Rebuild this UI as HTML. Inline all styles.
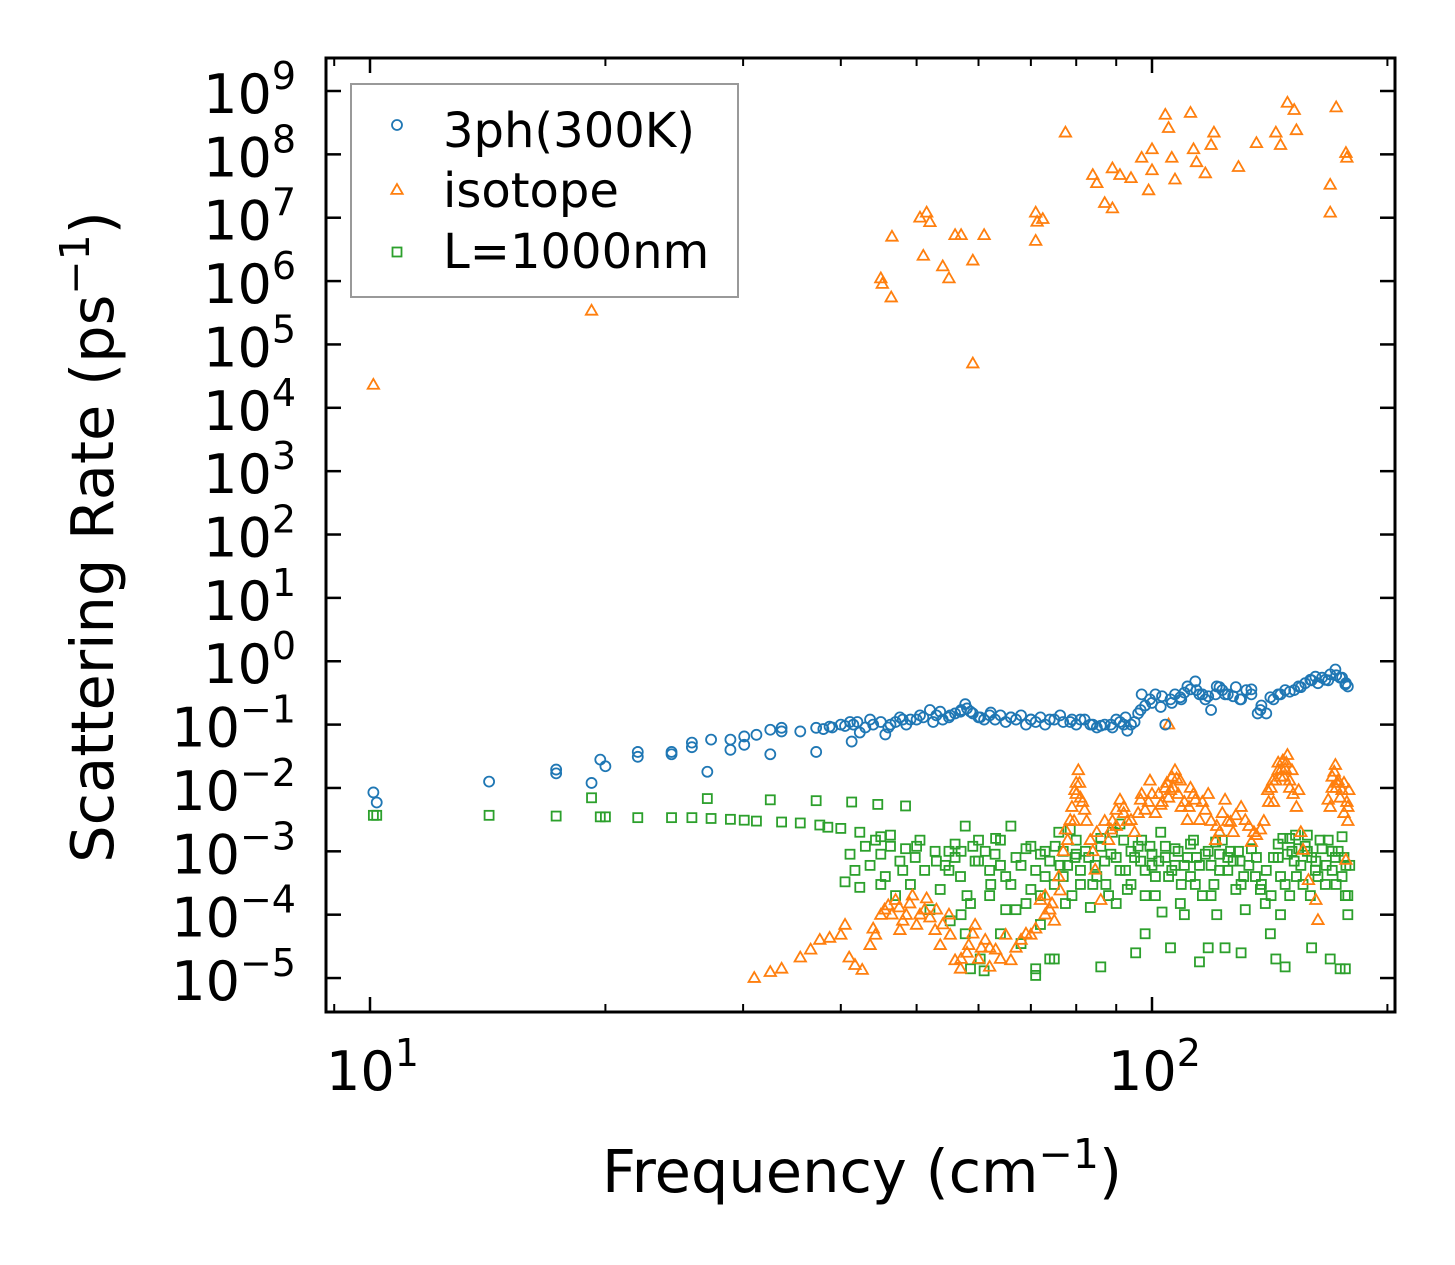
<!DOCTYPE html>
<html><head><meta charset="utf-8">
<style>
html,body{margin:0;padding:0;background:#fff;}
svg{display:block;}
text{font-family:"DejaVu Sans","Liberation Sans",sans-serif;fill:#000;}
</style></head>
<body>
<svg id="chart" width="1455" height="1265" viewBox="0 0 1455 1265" xmlns="http://www.w3.org/2000/svg">
<rect width="1455" height="1265" fill="#fff"/>
<g id="marks"></g>
<g id="axes"></g>
</svg>
<script>
// ---- data ----
const freq3ph = [10.1,10.2,14.2,17.3,17.3,19.2,19.7,20,22,22,24.3,24.3,25.8,25.8,27,27.3,28.9,28.9,30.1,30.1,31.2,32.5,32.5,33.6,33.6,35.5,37.2,37.2,38.7,40,41.1,41.3,42.3,43.6,45,45.6,46.3,47.6,49.1,50.5,52,53.6,55.2,56.9,57.7,58.6,60.3,62.2,64,66,68,70,72,74,76.3,78.6,81,83.4,86,88.6,91,92.5,94,96.7,97,99.4,102.6,104,105.6,108.7,112,113.6,115,117,119,120.6,122,124,128,129.6,134,136.5,137.6,141.7,146,150,155,159.4,161.8,166.6,169,171.6,174,176.7,
38,39,40.5,41.5,42,43,44,46,47,48,48.5,50,51,52.5,53,54,55,56,57,58,59,60,61,62,63,65,66,67,69,70,71,73,75,77,79,80,82,84,85,87,89,90,92,93,95,96,98,100,101,103,106,107,109,110,111,114,116,118,121,123,125,127,130,132,134,138,140,143,145,148,152,154,157,160,163,165,168,172,175,177,178];
const rate3ph = [8.5e-3,5.9e-3,1.26e-2,1.95e-2,1.7e-2,1.2e-2,2.8e-2,2.2e-2,3.7e-2,3.1e-2,3.7e-2,3.4e-2,5.2e-2,4.4e-2,1.8e-2,5.8e-2,5.8e-2,4e-2,6.5e-2,4.8e-2,6.9e-2,3.4e-2,8.3e-2,8.9e-2,7.8e-2,7.8e-2,3.7e-2,8.9e-2,9.3e-2,0.1,0.11,5.4e-2,7.5e-2,0.12,0.11,7e-2,0.1,0.13,0.12,0.14,0.17,0.16,0.14,0.16,0.21,0.16,0.13,0.155,0.14,0.13,0.14,0.12,0.13,0.12,0.14,0.11,0.12,0.1,0.096,0.1,0.11,0.13,0.1,0.17,0.3,0.25,0.19,0.1,0.25,0.27,0.36,0.48,0.3,0.25,0.17,0.3,0.39,0.3,0.39,0.25,0.36,0.15,0.17,0.27,0.3,0.33,0.39,0.51,0.57,0.51,0.62,0.74,0.55,0.43,
0.085,0.09,0.095,0.1,0.11,0.09,0.1,0.09,0.11,0.12,0.1,0.12,0.13,0.11,0.14,0.12,0.13,0.15,0.17,0.18,0.15,0.13,0.12,0.14,0.12,0.11,0.13,0.12,0.1,0.12,0.11,0.1,0.12,0.11,0.12,0.1,0.12,0.1,0.09,0.1,0.09,0.12,0.1,0.08,0.11,0.15,0.2,0.22,0.3,0.28,0.22,0.3,0.25,0.32,0.4,0.35,0.3,0.28,0.4,0.35,0.3,0.28,0.25,0.35,0.3,0.2,0.15,0.25,0.3,0.35,0.35,0.4,0.45,0.5,0.45,0.55,0.5,0.6,0.55,0.45,0.4];

const freqIso = [10.1,19.2,45,45.2,46.4,46.5,50.5,51.5,52,51,54,55,56,57,59,59,61,71,71.3,71,72.5,77.5,84,85,87,89,89,91,94,97,99,100,100,104,105,106,107,112,113,114,117,119,120,129,136,144,146,149,152,153,172,169,169,177,177.5,
31,32.5,33.6,35.5,36.6,37.6,38.7,40,40.5,41,41.7,42.6,43.6,44.3,45,46,47,47.6,48.5,49.4,50,51.2,52.8,53.6,55.2,56,56.9,58.3,59.4,61.2,63.1,65,66,68,70,72,74,76.3,77.5,78.6,79.7,80.5,82,83.4,84.6,86,88.6,90,91,94,96.7,98,99.4,102.6,105.6,107,108.7,111,113.6,115,117,120.6,124,126,128,131.6,134,137.6,140.6,142.7,145,147,149,151,154,156,158.5,162,163,168,171.6,173,175,177,178.5,105,
79,80,81,89,92,95,100,104,106,109,112,118,122,130,135,143,146,148,150,170,172,176,178,73,75,60,62,
44,45.5,46.5,47.5,48,49,50.5,51.5,52,53,54,55,57,58,59,60.5,62,64,67,69,71,73,74.5,76,77,78,79.5,80,80.8,81.5,82.5,84,85,87,88,90,92,93,96,97,99,101,102,103,104.5,105,106.5,107.5,108,110,111.5,113,116,119,121,123,125,127,133,136,139,141,142,144,145,146.5,147.5,148.5,150,151.5,153,155,169,170,171,172.5,174,176,177.5,178];
const rateIso = [2.3e4,3.4e5,1.1e6,9e5,5.5e5,5e6,1e7,1.2e7,8.5e6,2.5e6,1.7e6,1.1e6,5.3e6,5.3e6,5e4,2.1e6,5.3e6,1.2e7,8.6e6,4.3e6,9.5e6,2.2e8,4.7e7,3.5e7,1.7e7,1.4e7,6e7,4.7e7,4.2e7,8.8e7,2.7e7,5.6e7,1.2e8,4.2e8,2.6e8,8.8e7,4e7,4.5e8,1.2e8,7.5e7,5e7,1.4e8,2.2e8,6.3e7,1.5e8,2.2e8,1.4e8,6.5e8,5e8,2.4e8,5.5e8,3.3e7,1.2e7,1.05e8,8.8e7,
1e-5,1.24e-5,1.4e-5,2.1e-5,2.8e-5,4e-5,4.3e-5,4.8e-5,6.9e-5,2.1e-5,1.6e-5,1.34e-5,3.3e-5,4.8e-5,9.9e-5,1.4e-4,1.7e-4,5.7e-5,9.9e-5,2e-4,6.9e-5,1.2e-4,5.7e-5,3.3e-5,4.8e-5,1.9e-5,1.4e-5,3.3e-5,6.9e-5,4e-5,2.8e-5,4.8e-5,1.9e-5,4e-5,4.8e-5,1.7e-4,1.2e-4,2.4e-4,2.2e-3,3.1e-3,9.2e-3,1.9e-2,4.5e-3,1.5e-3,5.1e-4,1.7e-4,2.2e-3,4.5e-3,6.5e-3,3.1e-3,6.5e-3,4.5e-3,1.3e-2,5.4e-3,9.2e-3,1.9e-2,1.3e-2,3.1e-3,6.5e-3,3.1e-3,4.5e-3,1.5e-3,6.5e-3,2.9e-3,3.7e-3,3.1e-3,1.4e-3,2.2e-3,9.2e-3,1.3e-2,1.9e-2,2.7e-2,3.3e-2,1.9e-2,9.2e-3,1.05e-3,3.5e-4,1.7e-4,8.2e-5,6.5e-3,2.3e-2,1.3e-2,9.2e-3,7.3e-4,9.2e-3,0.1,
5e-3,1.2e-2,7e-3,3e-3,4e-3,2e-3,8e-3,1e-2,1.5e-2,5e-3,1e-2,8e-3,2e-3,5e-3,2e-3,6e-3,1.5e-2,2e-2,1e-2,1.5e-2,1e-2,4e-3,5e-3,1e-4,8e-5,2e-5,1.5e-5,
6e-5,1.2e-4,1e-4,1.3e-4,8e-5,1.5e-4,1e-4,1.8e-4,9e-5,1.2e-4,7e-5,1e-4,2e-5,2.5e-5,5e-5,3e-5,3e-5,2e-5,3e-5,5e-5,6e-5,2e-4,1.5e-4,4e-4,1e-3,1.5e-3,3e-3,8e-3,1.2e-2,6e-3,3e-3,1e-3,2e-3,3e-3,1.5e-3,2.5e-3,5e-3,3e-3,4e-3,8e-3,6e-3,4e-3,8e-3,6e-3,1.2e-2,7e-3,1e-2,1.4e-2,8e-3,6e-3,5e-3,8e-3,6e-3,3e-3,2.5e-3,4e-3,3e-3,2e-3,2.5e-3,1.8e-3,3e-3,6e-3,1e-2,1.3e-2,2.5e-2,2e-2,1.5e-2,2.5e-2,1.3e-2,8e-3,5e-3,2e-3,5e-3,1e-2,1.8e-2,1.2e-2,7e-3,1.2e-2,6e-3,3e-3];

const freqL = [10.1,10.2,14.2,17.3,19.2,19.7,20,22,24.3,25.8,27,27.3,28.9,30.1,31.2,32.5,33.6,35.5,37.2,37.6,38.5,40,41.3,42.3,44.6,45,46.3,48.4,
40.5,41.1,41.7,42.3,43,43.6,44.3,45,45.6,46.3,47,47.6,48.4,49.1,49.8,50.5,51.2,52,52.8,53.6,54.4,55.2,56,56.9,57.7,58.6,59.4,60.3,61.2,62.2,63.1,64,65,66,67,68,69,70,71,72,73,74,75.2,76.3,77.5,78.6,79.7,81,82.2,83.4,84.6,86,87.3,88.6,90,91,92.5,94,95.3,96.7,98,99.4,101,102.6,104,105.6,107,108.7,110,112,113.6,115,117,119,120.6,122,124,126,128,129.6,131.6,134,135.6,137.6,139.6,141.7,144,146,148,150,152.6,155,157,159.4,161.8,164,166.6,169,171.6,174,176.7,176.7,
57,57.7,58.6,61,66,69,71,72,76,77,80,84,89,93,97,100,103,106,110,114,118,121,125,130,145,147,151,153,158,162,170,175,177,178,45,48,50,53,55,60,62,
55,56,57,58,59,60,62,63,64,65,67,68,70,71,72,73,74,75,77,78,79,80,81,83,85,86,87,88,90,91,92,94,95,96,98,100,101,102,104,105,107,108,109,111,112,113,115,116,118,119,120,122,123,125,127,129,131,133,136,138,140,142,143,145,146,149,150,152,154,156,158,160,163,165,167,168,170,172,173,175,176,178,179,64,75,86,98,130,148,160];
const rateL = [3.7e-3,3.7e-3,3.7e-3,3.6e-3,7e-3,3.5e-3,3.5e-3,3.4e-3,3.4e-3,3.4e-3,6.8e-3,3.3e-3,3.2e-3,3.1e-3,3e-3,6.5e-3,2.9e-3,2.8e-3,6.3e-3,2.6e-3,2.4e-3,2.3e-3,6e-3,2e-3,5.5e-3,1.7e-3,1.8e-3,5.2e-3,
3.3e-4,9e-4,5e-4,2.7e-4,1.2e-3,6e-4,1.5e-3,9e-4,4e-4,1.2e-3,2e-4,7e-4,1.1e-3,3e-4,8e-4,1.5e-3,5e-4,1.2e-4,1e-3,2.5e-4,6e-4,8e-5,1.3e-3,4e-4,2.5e-3,1.5e-4,7e-4,2e-5,1e-3,3e-4,1.6e-3,6e-4,1.2e-4,2.5e-3,8e-4,3.5e-5,1.1e-3,2.5e-4,1.4e-5,9e-4,4e-4,2e-5,1.2e-3,6e-4,1.5e-4,2.2e-3,8e-4,3e-4,1e-3,1.3e-4,6e-4,1.6e-3,3e-4,9e-4,1.5e-4,2.7e-3,5e-4,1e-3,2.5e-5,7e-4,2e-4,1.2e-3,4e-4,2e-3,8e-4,3e-5,1.1e-3,1.5e-4,6e-4,1.3e-3,3e-4,1.8e-5,9e-4,2e-4,1.4e-3,5e-4,3e-5,1e-3,2.5e-4,7e-4,1.2e-4,1.1e-3,4e-4,2.5e-4,1.5e-4,5e-5,2e-5,1e-4,3e-4,1.6e-3,1.8e-3,6e-4,1.2e-3,2e-4,5e-4,1.5e-3,3e-4,2e-5,8e-4,1.4e-5,2e-4,1.4e-5,
1e-4,5e-5,1.4e-5,1.3e-5,3e-4,1.5e-4,1.1e-5,7e-5,2e-3,4e-4,1.5e-3,3e-4,2e-3,2.5e-4,1.5e-3,6e-4,1.1e-4,5e-4,1e-4,8e-4,3e-5,1e-4,8e-4,3e-4,8e-4,1.6e-3,1e-3,4e-4,1.8e-3,7e-4,1e-3,1.7e-3,6e-4,1e-4,3e-4,5e-4,1.2e-3,7e-4,1e-3,1.5e-3,5e-4,
5e-4,8e-4,1e-3,2e-4,1.2e-3,7e-4,2e-4,9e-4,1.5e-3,4e-4,1.2e-4,6e-4,1.2e-3,5e-4,2e-4,1e-3,7e-4,3e-4,1e-3,6e-4,2e-4,9e-4,5e-4,8e-4,4e-4,1.2e-3,7e-4,2e-4,8e-4,5e-4,1.5e-3,3e-4,8e-4,1.2e-3,5e-4,9e-4,2e-4,7e-4,1.2e-3,4e-4,6e-4,1e-3,3e-4,8e-4,4e-4,1.5e-3,6e-4,2e-4,1e-3,6e-4,3e-4,9e-4,1.5e-3,5e-4,7e-4,1e-3,4e-4,6e-4,8e-4,3e-4,5e-4,2e-4,8e-4,1.3e-3,4e-4,9e-4,2e-4,7e-4,1.1e-3,3e-4,1e-3,8e-4,4e-4,1.1e-3,6e-4,1.5e-3,5e-4,3e-4,1e-3,4e-4,8e-4,2e-4,6e-4,5e-5,2e-5,1.5e-5,5e-5,2.5e-5,1.5e-5,3e-5];

const yTickExps = [9,8,7,6,5,4,3,2,1,0,-1,-2,-3,-4,-5];
const xMajorExps = [1,2];
const xMinorVals = [9,20,30,40,50,60,70,80,90,200];

// ---- axes ----
const L=326,R=1395,T=58,B=1012;
const xLog0=370, xDec=782;
const yLog9=91, yDec=63.36;
const xs=v=>xLog0+(Math.log10(v)-1)*xDec;
const ys=v=>yLog9+(9-Math.log10(v))*yDec;
const NS="http://www.w3.org/2000/svg";
function mk(tag,attrs,parent){const e=document.createElementNS(NS,tag);for(const k in attrs)e.setAttribute(k,attrs[k]);parent.appendChild(e);return e;}
const marks=document.getElementById('marks');
const axes=document.getElementById('axes');

const gL=mk('g',{},marks);


const gI=mk('g',{},marks);


const gB=mk('g',{},marks);



function tri(cx,cy,s){return `${cx},${cy-s} ${cx-s*0.95},${cy+s*0.65} ${cx+s*0.95},${cy+s*0.65}`;}

freqL.forEach((f,i)=>{const x=xs(f),y=ys(rateL[i]);
 const r=mk('rect',{x:x-4.5,y:y-4.5,width:9,height:9,fill:'none',stroke:'#2ca02c','stroke-width':1.8},gL);
 
 });
freqIso.forEach((f,i)=>{const x=xs(f),y=ys(rateIso[i]);
 const p=mk('polygon',{points:tri(x,y,6),fill:'none',stroke:'#ff7f0e','stroke-width':1.8},gI);
 
 });
freq3ph.forEach((f,i)=>{const x=xs(f),y=ys(rate3ph[i]);
 const c=mk('circle',{cx:x,cy:y,r:5,fill:'none',stroke:'#1f77b4','stroke-width':1.8},gB);
 
 });

const fr=mk('rect',{x:L,y:T,width:R-L,height:B-T,fill:'none',stroke:'#000','stroke-width':3},axes);



yTickExps.forEach(e=>{const y=yLog9+(9-e)*yDec;
 mk('line',{x1:L,x2:L+15,y1:y,y2:y,stroke:'#000','stroke-width':2.5},axes);
 mk('line',{x1:R,x2:R-15,y1:y,y2:y,stroke:'#000','stroke-width':2.5},axes);
 const t=mk('text',{x:296,y:y+22,'text-anchor':'end','font-size':54},axes);
 
 
 const es=e<0?'\u2212'+(-e):String(e);
 t.innerHTML='10<tspan dy="-24" font-size="38">'+es+'</tspan>';});

xMajorExps.forEach(e=>{const x=xLog0+(e-1)*xDec;
 mk('line',{x1:x,x2:x,y1:B,y2:B-15,stroke:'#000','stroke-width':2.5},axes);
 mk('line',{x1:x,x2:x,y1:T,y2:T+15,stroke:'#000','stroke-width':2.5},axes);
 const t=mk('text',{x:x-44,y:1090,'font-size':54},axes);
 
 
 t.innerHTML='10<tspan dy="-24" font-size="38">'+e+'</tspan>';});
xMinorVals.forEach(v=>{const x=xs(v);
 mk('line',{x1:x,x2:x,y1:B,y2:B-8,stroke:'#000','stroke-width':2},axes);
 mk('line',{x1:x,x2:x,y1:T,y2:T+8,stroke:'#000','stroke-width':2},axes);});

const xt=mk('text',{x:862,y:1192,'text-anchor':'middle','font-size':59},axes);


xt.innerHTML='Frequency (cm<tspan dy="-24" font-size="41">\u22121</tspan><tspan dy="24">)</tspan>';
const yt=mk('text',{x:0,y:0,'text-anchor':'middle','font-size':59,transform:'translate(113,537) rotate(-90)'},axes);


yt.innerHTML='Scattering Rate (ps<tspan dy="-24" font-size="41">\u22121</tspan><tspan dy="24">)</tspan>';

const lg=mk('g',{},axes);


mk('rect',{x:351,y:84,width:387,height:213,fill:'#fff',stroke:'#999','stroke-width':2},lg);
mk('circle',{cx:397,cy:125,r:5,fill:'none',stroke:'#1f77b4','stroke-width':1.8},lg);
mk('polygon',{points:tri(397,190,6),fill:'none',stroke:'#ff7f0e','stroke-width':1.8},lg);
mk('rect',{x:392.5,y:247.5,width:9,height:9,fill:'none',stroke:'#2ca02c','stroke-width':1.8},lg);
[['3ph(300K)',147,'legend-entry-3ph'],['isotope',207,'legend-entry-isotope'],['L=1000nm',268,'legend-entry-l1000nm']].forEach(a=>{
 const t=mk('text',{x:443,y:a[1],'font-size':48},lg);
 
 
 t.textContent=a[0];});
</script>
</body></html>
